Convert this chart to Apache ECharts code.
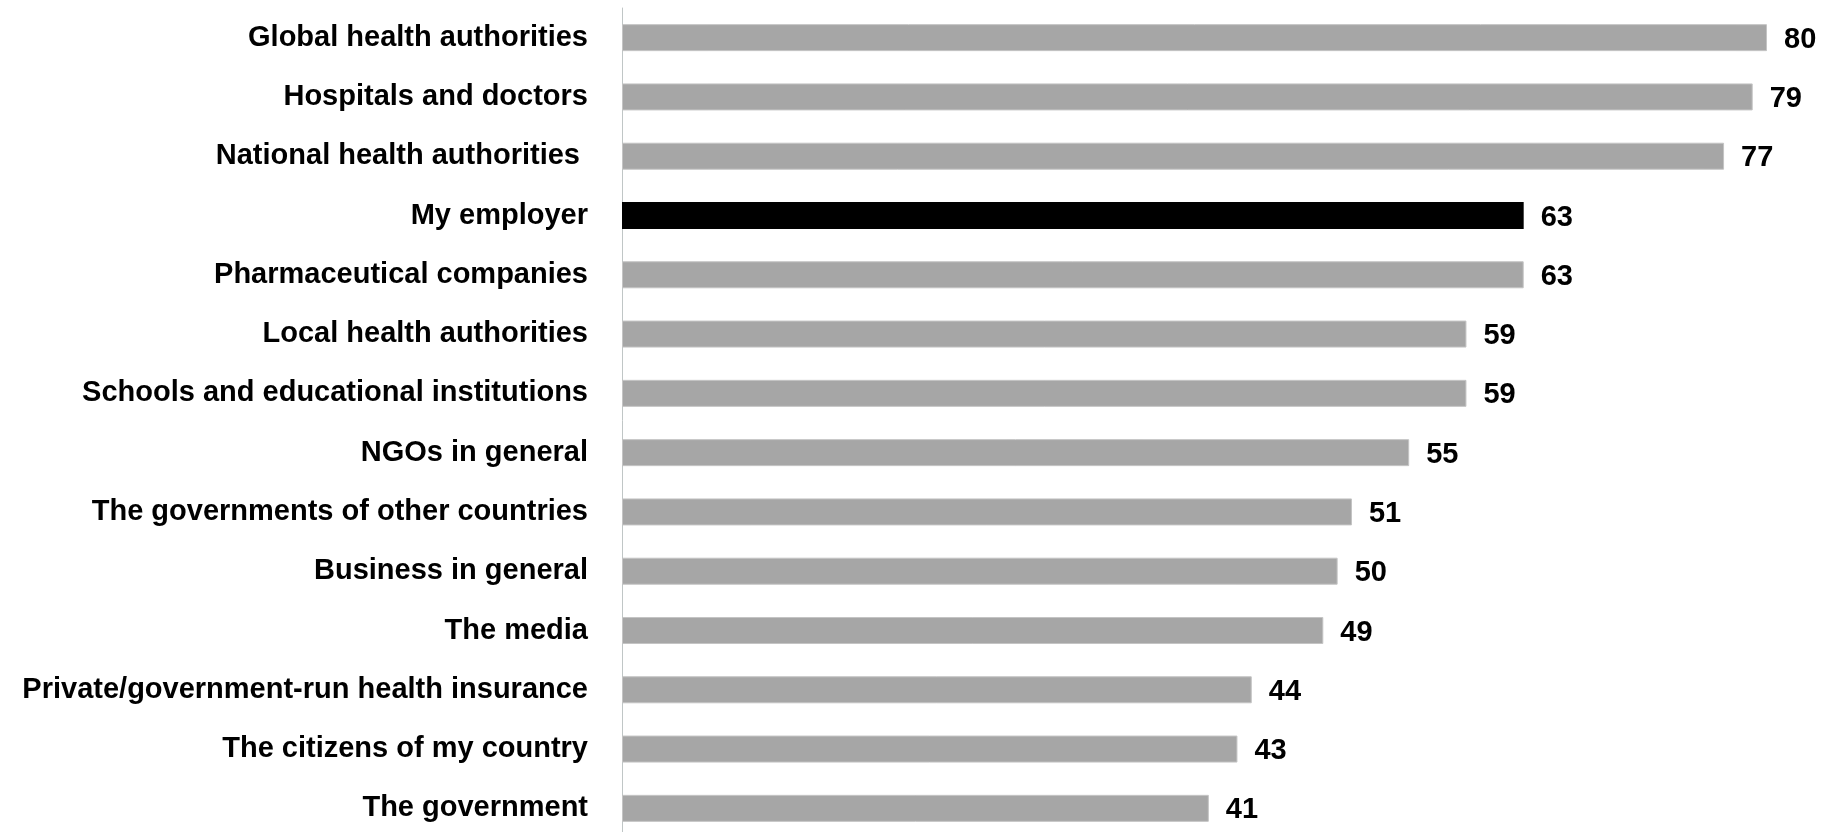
<!DOCTYPE html>
<html>
<head>
<meta charset="utf-8">
<script src="https://cdn.jsdelivr.net/npm/echarts@6/dist/echarts.min.js"></script>
<style>html,body{margin:0;padding:0;background:#fff}#c{width:1822px;height:832px}</style>
</head>
<body>
<div id="c"></div>
<script>
const categories = [
  "Global health authorities",
  "Hospitals and doctors",
  "National health authorities ",
  "My employer",
  "Pharmaceutical companies",
  "Local health authorities",
  "Schools and educational institutions",
  "NGOs in general",
  "The governments of other countries",
  "Business in general",
  "The media",
  "Private/government-run health insurance",
  "The citizens of my country",
  "The government"
];
const values = [80, 79, 77, 63, 63, 59, 59, 55, 51, 50, 49, 44, 43, 41];
const highlight = "My employer";

const chart = echarts.init(document.getElementById('c'), null, {renderer: 'canvas'});
chart.setOption({
  animation: false,
  grid: {left: 622, top: 8, width: 1145, height: 830, containLabel: false, outerBoundsMode: 'none'},
  xAxis: {type: 'value', min: 0, max: 80, show: false},
  yAxis: {
    type: 'category',
    data: categories,
    inverse: true,
    axisLine: {show: true, lineStyle: {color: '#c0c6c6', width: 1}},
    axisTick: {show: false},
    axisLabel: {
      margin: 34,
      padding: [4, 0, 0, 0],
      fontFamily: 'Liberation Sans, Arial, sans-serif',
      fontWeight: 'bold',
      fontSize: 29,
      color: '#000'
    }
  },
  series: [{
    type: 'bar',
    barWidth: 27,
    data: values.map((v, i) => ({
      value: v,
      itemStyle: categories[i] === highlight
        ? {color: '#000000'}
        : {color: '#a6a6a6', borderColor: '#c4c4c4', borderWidth: 1}
    })),
    label: {
      show: true,
      position: 'right',
      distance: 16,
      offset: [1, 2],
      fontFamily: 'Liberation Sans, Arial, sans-serif',
      fontWeight: 'bold',
      fontSize: 29,
      color: '#000'
    }
  }]
});
</script>
</body>
</html>
